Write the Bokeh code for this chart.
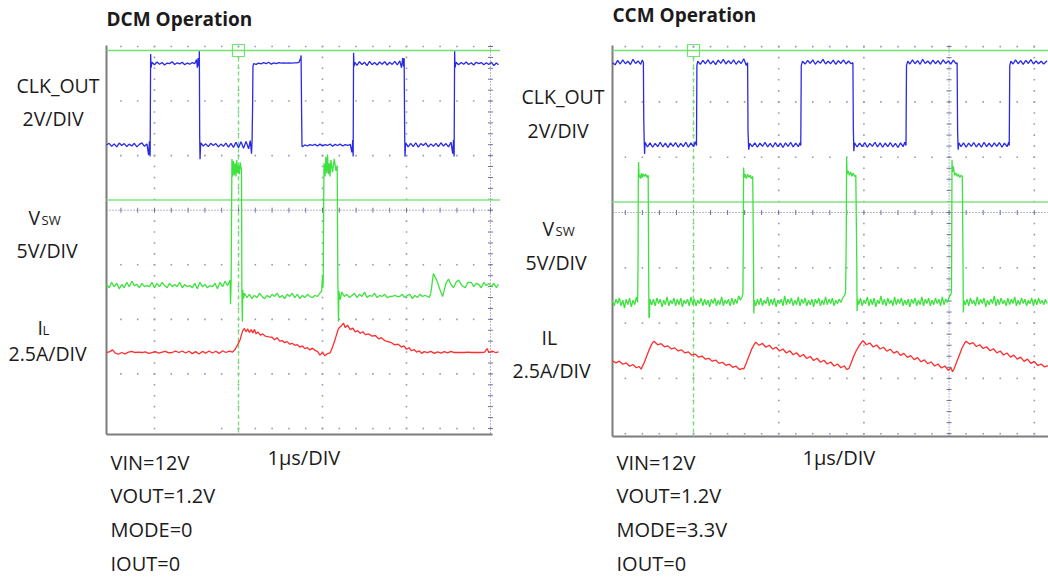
import numpy as np
from bokeh.plotting import figure
from bokeh.models import Range1d
from bokeh.layouts import row
from bokeh.core.properties import value
from bokeh.embed import file_html
from bokeh.resources import INLINE

# ---------------------------------------------------------------- data
# (time in us, value in channel units) read off the two scope captures

DCM_CLK = [
    (-1.571, 0.02), (-1.54, 0.08), (-1.51, -0.03), (-1.48, 0.06), (-1.45, -0.05), (-1.42, 0.09),
    (-1.39, 0.0), (-1.36, 0.07), (-1.33, -0.04), (-1.30, 0.05), (-1.27, -0.02), (-1.24, 0.08),
    (-1.21, -0.05), (-1.18, 0.04), (-1.15, 0.10), (-1.12, -0.03), (-1.09, 0.06), (-1.07, -0.35),
    (-1.06, 0.15), (-1.052, -0.40), (-1.046, 3.35), (-1.040, 2.85), (-1.03, 3.05),
    (-1.00, 2.96), (-0.97, 3.06), (-0.94, 2.98), (-0.91, 3.04), (-0.88, 2.95), (-0.85, 3.02),
    (-0.82, 3.0), (-0.79, 3.07), (-0.76, 2.97), (-0.73, 3.03), (-0.70, 2.99), (-0.67, 3.05),
    (-0.64, 2.96), (-0.61, 3.02), (-0.58, 2.98), (-0.55, 3.04), (-0.52, 3.0), (-0.50, 3.15),
    (-0.49, 2.85), (-0.48, 3.2), (-0.47, 2.9), (-0.466, 3.45),
    (-0.462, 0.3), (-0.458, -0.5), (-0.45, 0.1),
    (-0.42, -0.02), (-0.39, 0.06), (-0.36, -0.04), (-0.33, 0.08), (-0.30, 0.0), (-0.27, 0.07),
    (-0.24, -0.05), (-0.21, 0.05), (-0.18, -0.03), (-0.15, 0.09), (-0.12, -0.06), (-0.09, 0.08),
    (-0.06, -0.07), (-0.03, 0.12), (0.0, -0.08), (0.03, 0.14), (0.06, -0.1), (0.09, 0.15),
    (0.12, -0.12), (0.14, 0.18), (0.155, -0.3), (0.162, 0.2),
    (0.168, 1.5), (0.172, 2.9), (0.18, 3.0),
    (0.21, 2.97), (0.24, 3.02), (0.27, 2.99), (0.30, 3.04), (0.33, 3.0), (0.36, 3.05),
    (0.39, 2.98), (0.42, 3.03), (0.45, 3.0), (0.48, 3.04), (0.51, 3.02), (0.54, 3.03),
    (0.57, 3.02), (0.60, 3.03), (0.63, 3.02), (0.66, 3.03), (0.69, 3.03), (0.72, 3.05),
    (0.74, 3.2), (0.745, 3.3),
    (0.752, 1.0), (0.756, 0.0), (0.76, -0.05),
    (0.79, 0.02), (0.82, -0.02), (0.85, 0.03), (0.88, 0.0), (0.91, 0.04), (0.94, -0.02),
    (0.97, 0.05), (1.0, -0.02), (1.03, 0.03), (1.06, 0.0), (1.09, 0.05), (1.12, -0.03),
    (1.15, 0.04), (1.18, 0.0), (1.21, 0.05), (1.24, -0.02), (1.27, 0.03), (1.30, 0.0),
    (1.33, 0.04), (1.35, -0.25), (1.36, 0.2), (1.365, -0.4),
    (1.37, 3.4), (1.375, 2.9), (1.385, 3.05),
    (1.41, 2.94), (1.44, 3.07), (1.47, 2.97), (1.50, 3.05), (1.53, 2.93), (1.56, 3.08),
    (1.59, 2.96), (1.62, 3.04), (1.65, 2.95), (1.68, 3.06), (1.71, 2.98), (1.74, 3.07),
    (1.77, 2.95), (1.80, 3.05), (1.83, 2.97), (1.86, 3.08), (1.89, 2.95), (1.92, 3.1),
    (1.94, 2.85), (1.955, 3.2), (1.965, 2.9), (1.972, 3.2),
    (1.978, 0.5), (1.982, -0.4), (1.99, 0.1),
    (2.02, -0.05), (2.05, 0.08), (2.08, -0.04), (2.11, 0.1), (2.14, -0.06), (2.17, 0.07),
    (2.20, 0.0), (2.23, 0.09), (2.26, -0.05), (2.29, 0.06), (2.32, -0.03), (2.35, 0.08),
    (2.38, -0.04), (2.41, 0.1), (2.44, -0.02), (2.47, 0.07), (2.50, -0.05), (2.53, 0.12),
    (2.55, -0.3), (2.56, 0.2), (2.567, -0.4),
    (2.573, 3.45), (2.578, 2.85), (2.59, 3.05),
    (2.62, 2.96), (2.65, 3.04), (2.68, 2.98), (2.71, 3.06), (2.74, 2.97), (2.77, 3.03),
    (2.80, 2.95), (2.83, 3.05), (2.86, 3.0), (2.89, 3.04), (2.92, 2.96), (2.95, 3.03),
    (2.98, 2.97), (3.01, 3.05), (3.04, 2.93), (3.07, 3.02), (3.095, 2.96),
]

DCM_VSW = [
    (-1.571, 1.1), (-1.54, 0.8), (-1.51, 1.3), (-1.48, 0.9), (-1.45, 1.2), (-1.42, 0.7),
    (-1.39, 1.1), (-1.36, 0.8), (-1.33, 1.3), (-1.30, 0.9), (-1.27, 1.4), (-1.24, 1.0),
    (-1.21, 1.1), (-1.18, 0.8), (-1.15, 1.2), (-1.12, 0.9), (-1.09, 1.0), (-1.06, 0.9),
    (-1.03, 1.3), (-1.0, 0.8), (-0.97, 1.2), (-0.94, 0.9), (-0.91, 1.3), (-0.88, 1.0),
    (-0.85, 0.8), (-0.82, 1.2), (-0.79, 0.9), (-0.76, 1.1), (-0.73, 0.9), (-0.70, 1.3),
    (-0.67, 0.8), (-0.64, 1.1), (-0.61, 0.9), (-0.58, 1.0), (-0.55, 0.8), (-0.52, 1.2),
    (-0.49, 0.7), (-0.46, 1.3), (-0.43, 0.9), (-0.40, 1.1), (-0.37, 0.8), (-0.34, 1.0),
    (-0.31, 0.9), (-0.28, 1.2), (-0.25, 0.7), (-0.22, 1.3), (-0.19, 0.9), (-0.16, 1.4),
    (-0.13, 1.0), (-0.10, 1.5), (-0.095, -0.7), (-0.088, 1.2),
    (-0.084, 6.0), (-0.078, 12.6), (-0.07, 11.0), (-0.06, 12.4), (-0.05, 11.1), (-0.04, 12.2),
    (-0.03, 11.0), (-0.02, 12.5), (-0.01, 11.3), (0.0, 12.0), (0.01, 11.2), (0.02, 12.3),
    (0.03, 11.8), (0.036, 11.5),
    (0.040, 0.5), (0.046, -2.3), (0.05, 0.6), (0.06, -0.2),
    (0.07, 0.3), (0.10, -0.1), (0.13, 0.2), (0.16, -0.2), (0.19, 0.1), (0.22, -0.1),
    (0.25, 0.3), (0.28, 0.0), (0.31, -0.2), (0.34, 0.1), (0.37, -0.1), (0.40, 0.2),
    (0.43, 0.0), (0.46, 0.3), (0.49, -0.1), (0.52, 0.1), (0.55, -0.2), (0.58, 0.2),
    (0.61, 0.0), (0.64, 0.3), (0.67, -0.1), (0.70, 0.2), (0.73, -0.2), (0.76, 0.1),
    (0.79, -0.1), (0.82, 0.2), (0.85, 0.0), (0.88, -0.1), (0.91, 0.1), (0.94, 0.0),
    (0.97, 0.3), (0.99, 0.5), (1.0, 1.9), (1.003, 0.8), (1.008, 1.2),
    (1.012, 6.0), (1.018, 12.2), (1.03, 11.0), (1.04, 12.8), (1.05, 11.3), (1.06, 13.0),
    (1.07, 11.2), (1.08, 12.2), (1.09, 11.0), (1.10, 12.5), (1.12, 11.4), (1.14, 12.6),
    (1.16, 11.5), (1.175, 12.0),
    (1.182, 2.0), (1.19, -2.3), (1.196, 0.5), (1.21, -0.3), (1.23, 0.4),
    (1.26, 0.0), (1.29, 0.2), (1.32, -0.1), (1.35, 0.1), (1.38, 0.3), (1.41, -0.1),
    (1.44, 0.2), (1.47, 0.0), (1.50, 0.4), (1.53, -0.1), (1.56, 0.1), (1.59, 0.0),
    (1.62, 0.3), (1.65, -0.1), (1.68, 0.1), (1.71, 0.0), (1.74, 0.2), (1.77, -0.1),
    (1.80, 0.0), (1.83, 0.0), (1.86, 0.1), (1.89, 0.0), (1.92, 0.0), (1.95, 0.2),
    (1.98, -0.1), (2.01, 0.1), (2.04, 0.2), (2.07, -0.2), (2.10, 0.1), (2.13, -0.1),
    (2.16, 0.2), (2.19, 0.0), (2.22, 0.1), (2.25, 0.0), (2.27, -0.1),
    (2.29, 0.3), (2.32, 2.1), (2.36, 1.5), (2.40, 0.6), (2.43, 0.0), (2.47, 1.2),
    (2.50, 1.6), (2.53, 1.1), (2.56, 0.8), (2.59, 1.3), (2.62, 1.5), (2.66, 1.0),
    (2.70, 0.8), (2.73, 1.3), (2.77, 1.3), (2.80, 0.9), (2.83, 1.2), (2.86, 1.1),
    (2.89, 0.8), (2.92, 1.3), (2.95, 1.0), (2.98, 1.2), (3.01, 0.9), (3.04, 1.2),
    (3.07, 0.8), (3.095, 1.1),
]

DCM_IL = [
    (-1.571, 0.0), (-1.53, 0.04), (-1.50, 0.12), (-1.47, -0.02), (-1.43, -0.08), (-1.39, 0.0),
    (-1.35, -0.06), (-1.31, 0.02), (-1.27, 0.05), (-1.23, 0.0), (-1.19, 0.02), (-1.15, 0.0),
    (-1.11, 0.03), (-1.07, -0.04), (-1.03, 0.0), (-0.99, 0.04), (-0.95, -0.03), (-0.91, 0.02),
    (-0.87, 0.05), (-0.83, -0.02), (-0.79, 0.0), (-0.75, 0.06), (-0.71, 0.0), (-0.67, 0.07),
    (-0.63, -0.02), (-0.59, 0.06), (-0.55, -0.05), (-0.51, 0.04), (-0.47, -0.07), (-0.43, 0.05),
    (-0.39, -0.03), (-0.35, 0.07), (-0.31, -0.02), (-0.27, 0.06), (-0.23, -0.04), (-0.19, 0.08),
    (-0.15, 0.0), (-0.11, 0.06), (-0.07, 0.02), (-0.04, 0.15), (-0.01, 0.35), (0.02, 0.6),
    (0.05, 1.0), (0.07, 1.1), (0.09, 0.95), (0.11, 1.08), (0.13, 0.92), (0.15, 1.05),
    (0.17, 0.9), (0.19, 1.06), (0.21, 0.85), (0.23, 0.95), (0.26, 0.80), (0.29, 0.85),
    (0.32, 0.75), (0.36, 0.72), (0.40, 0.70), (0.43, 0.58), (0.46, 0.68), (0.49, 0.52),
    (0.52, 0.55), (0.55, 0.45), (0.58, 0.50), (0.61, 0.38), (0.64, 0.42), (0.67, 0.33),
    (0.70, 0.36), (0.73, 0.25), (0.76, 0.30), (0.79, 0.18), (0.82, 0.22), (0.85, 0.12),
    (0.88, 0.2), (0.91, 0.1), (0.94, 0.05), (0.97, -0.12), (1.0, 0.0), (1.03, -0.15),
    (1.06, -0.05), (1.09, -0.02), (1.12, 0.25), (1.15, 0.6), (1.19, 1.1), (1.22, 1.2),
    (1.25, 1.35), (1.27, 1.15), (1.30, 1.25), (1.33, 1.05), (1.36, 1.12), (1.39, 0.95),
    (1.42, 1.0), (1.45, 0.88), (1.48, 0.95), (1.51, 0.82), (1.55, 0.85), (1.59, 0.75),
    (1.63, 0.78), (1.67, 0.62), (1.70, 0.68), (1.74, 0.55), (1.78, 0.5), (1.82, 0.45),
    (1.86, 0.35), (1.90, 0.38), (1.94, 0.25), (1.97, 0.3), (2.0, 0.15), (2.03, 0.22),
    (2.06, 0.08), (2.09, 0.14), (2.12, 0.02), (2.15, 0.08), (2.18, -0.04), (2.21, 0.04),
    (2.25, 0.0), (2.29, 0.05), (2.33, -0.04), (2.37, 0.03), (2.41, -0.03), (2.45, 0.04),
    (2.49, -0.02), (2.53, 0.05), (2.57, 0.0), (2.61, 0.0), (2.65, 0.0), (2.69, 0.0),
    (2.73, 0.02), (2.77, 0.0), (2.81, 0.0), (2.85, 0.0), (2.89, 0.0), (2.93, 0.02),
    (2.96, 0.18), (2.98, 0.0), (3.02, 0.06), (3.06, 0.0), (3.095, 0.03),
]

CCM_CLK = [
    (-0.953, 3.0), (-0.92, 2.92), (-0.89, 3.08), (-0.86, 2.95), (-0.83, 3.1), (-0.80, 2.96),
    (-0.77, 3.05), (-0.74, 2.93), (-0.71, 3.12), (-0.68, 2.97), (-0.65, 3.06), (-0.62, 2.94),
    (-0.60, 3.1), (-0.588, 3.0), (-0.584, 1.0), (-0.578, 0.1), (-0.574, -0.3), (-0.568, 0.12),
    (-0.54, -0.05), (-0.51, 0.1), (-0.48, -0.06), (-0.45, 0.08), (-0.42, -0.04), (-0.39, 0.12),
    (-0.36, -0.05), (-0.33, 0.09), (-0.30, -0.07), (-0.27, 0.1), (-0.24, -0.03), (-0.21, 0.11),
    (-0.18, -0.06), (-0.15, 0.08), (-0.12, -0.04), (-0.09, 0.12), (-0.06, -0.06), (-0.03, 0.1),
    (0.0, -0.04), (0.02, 0.14), (0.035, 0.0), (0.04, 2.9), (0.05, 3.05),
    (0.08, 2.94), (0.11, 3.08), (0.14, 2.96), (0.17, 3.1), (0.20, 2.95), (0.23, 3.06),
    (0.26, 2.93), (0.29, 3.09), (0.32, 2.97), (0.35, 3.12), (0.38, 2.95), (0.41, 3.07),
    (0.44, 2.96), (0.47, 3.1), (0.50, 2.94), (0.53, 3.06), (0.56, 2.97), (0.59, 3.14),
    (0.62, 2.9), (0.635, 3.0), (0.64, 0.5), (0.648, -0.15), (0.66, 0.08),
    (0.69, -0.04), (0.72, 0.1), (0.75, -0.06), (0.78, 0.09), (0.81, -0.03), (0.84, 0.12),
    (0.87, -0.05), (0.90, 0.08), (0.93, -0.06), (0.96, 0.11), (0.99, -0.04), (1.02, 0.09),
    (1.05, -0.07), (1.08, 0.1), (1.11, -0.03), (1.14, 0.12), (1.17, -0.05), (1.20, 0.09),
    (1.23, -0.04), (1.25, 0.1), (1.259, 0.0), (1.265, 2.9), (1.28, 3.05),
    (1.31, 2.95), (1.34, 3.08), (1.37, 2.97), (1.40, 3.1), (1.43, 2.94), (1.46, 3.06),
    (1.49, 2.98), (1.52, 3.12), (1.55, 2.95), (1.58, 3.05), (1.61, 2.96), (1.64, 3.09),
    (1.67, 2.94), (1.70, 3.07), (1.73, 2.97), (1.76, 3.1), (1.79, 2.95), (1.82, 3.06),
    (1.85, 2.96), (1.871, 3.0), (1.876, 0.6), (1.882, -0.2), (1.89, 0.1),
    (1.92, -0.05), (1.95, 0.09), (1.98, -0.04), (2.01, 0.11), (2.04, -0.06), (2.07, 0.08),
    (2.10, -0.03), (2.13, 0.12), (2.16, -0.05), (2.19, 0.1), (2.22, -0.06), (2.25, 0.09),
    (2.28, -0.04), (2.31, 0.11), (2.34, -0.05), (2.37, 0.08), (2.40, -0.07), (2.43, 0.1),
    (2.46, -0.04), (2.48, 0.12), (2.494, 0.0), (2.50, 2.9), (2.515, 3.05),
    (2.54, 2.95), (2.57, 3.1), (2.60, 2.96), (2.63, 3.07), (2.66, 2.94), (2.69, 3.12),
    (2.72, 2.97), (2.75, 3.06), (2.78, 2.95), (2.81, 3.09), (2.84, 2.96), (2.87, 3.07),
    (2.90, 2.94), (2.93, 3.1), (2.96, 2.97), (2.99, 3.06), (3.02, 2.95), (3.05, 3.09),
    (3.08, 2.96), (3.094, 3.0), (3.10, 0.5), (3.106, -0.15), (3.115, 0.1),
    (3.14, -0.04), (3.17, 0.1), (3.20, -0.06), (3.23, 0.09), (3.26, -0.03), (3.29, 0.11),
    (3.32, -0.05), (3.35, 0.08), (3.38, -0.06), (3.41, 0.12), (3.44, -0.04), (3.47, 0.09),
    (3.50, -0.05), (3.53, 0.1), (3.56, -0.03), (3.59, 0.11), (3.62, -0.06), (3.65, 0.09),
    (3.68, -0.04), (3.70, 0.12), (3.706, 0.0), (3.712, 2.9), (3.725, 3.05),
    (3.75, 2.95), (3.78, 3.1), (3.81, 2.96), (3.84, 3.07), (3.87, 2.94), (3.90, 3.08),
    (3.93, 2.97), (3.96, 3.11), (3.99, 2.95), (4.02, 3.06), (4.05, 2.96), (4.08, 3.05),
    (4.11, 2.95), (4.15, 3.07),
]

CCM_VSW = [
    (-0.953, 0.2), (-0.93, -0.3), (-0.91, 0.3), (-0.89, -0.1), (-0.87, 0.4), (-0.85, -0.3),
    (-0.83, 0.2), (-0.81, -0.5), (-0.79, 0.3), (-0.77, -0.2), (-0.75, 0.4), (-0.73, -0.4),
    (-0.71, 0.2), (-0.69, -0.2), (-0.67, 0.5), (-0.655, 0.0),
    (-0.650, 5.0), (-0.648, 11.0), (-0.645, 12.7), (-0.638, 11.3), (-0.63, 11.5), (-0.62, 11.2),
    (-0.61, 11.7), (-0.60, 11.3), (-0.59, 11.6), (-0.575, 11.4), (-0.56, 11.6), (-0.545, 11.3),
    (-0.532, 11.5), (-0.527, 4.0), (-0.523, -1.3), (-0.518, -1.4), (-0.512, 0.3),
    (-0.49, -0.2), (-0.47, 0.3), (-0.45, -0.3), (-0.43, 0.4), (-0.41, -0.1), (-0.39, 0.3),
    (-0.37, -0.4), (-0.35, 0.2), (-0.33, -0.2), (-0.31, 0.5), (-0.29, -0.3), (-0.27, 0.2),
    (-0.25, -0.1), (-0.23, 0.4), (-0.21, -0.3), (-0.19, 0.3), (-0.17, -0.2), (-0.15, 0.4),
    (-0.13, -0.4), (-0.11, 0.2), (-0.09, -0.1), (-0.07, 0.3), (-0.05, -0.3), (-0.03, 0.5),
    (-0.01, -0.2), (0.01, 0.3), (0.03, -0.3), (0.05, 0.2), (0.07, -0.1), (0.09, 0.4),
    (0.11, -0.3), (0.13, 0.3), (0.15, -0.2), (0.17, 0.2), (0.19, -0.4), (0.21, 0.3),
    (0.23, -0.1), (0.25, 0.4), (0.27, -0.3), (0.29, 0.2), (0.31, -0.2), (0.33, 0.5),
    (0.35, -0.3), (0.37, 0.2), (0.39, -0.1), (0.41, 0.3), (0.43, -0.3), (0.45, 0.4),
    (0.47, -0.2), (0.49, 0.3), (0.51, -0.1), (0.53, 0.6), (0.55, 0.2), (0.57, 0.5),
    (0.58, 0.8), (0.585, 6.0), (0.588, 12.2), (0.595, 11.3), (0.605, 11.6), (0.62, 11.2),
    (0.635, 11.6), (0.65, 11.3), (0.665, 11.5), (0.68, 11.2), (0.695, 11.4),
    (0.704, 4.0), (0.708, -1.0), (0.714, 0.2),
    (0.73, -0.3), (0.75, 0.3), (0.77, -0.2), (0.79, 0.4), (0.81, -0.3), (0.83, 0.2),
    (0.85, -0.1), (0.87, 0.5), (0.89, -0.3), (0.91, 0.3), (0.93, -0.2), (0.95, 0.4),
    (0.97, -0.4), (0.99, 0.2), (1.01, -0.1), (1.03, 0.3), (1.05, -0.3), (1.07, 0.6),
    (1.09, -0.2), (1.11, 0.3), (1.13, -0.1), (1.15, 0.4), (1.17, -0.3), (1.19, 0.2),
    (1.21, -0.2), (1.23, 0.5), (1.25, -0.3), (1.27, 0.3), (1.29, -0.1), (1.31, 0.4),
    (1.33, -0.3), (1.35, 0.2), (1.37, -0.2), (1.39, 0.3), (1.41, -0.4), (1.43, 0.3),
    (1.45, -0.1), (1.47, 0.4), (1.49, -0.3), (1.51, 0.2), (1.53, -0.2), (1.55, 0.5),
    (1.57, -0.2), (1.59, 0.3), (1.61, -0.1), (1.63, 0.4), (1.65, -0.3), (1.67, 0.2),
    (1.69, -0.1), (1.71, 0.3), (1.73, 0.0), (1.75, 0.4), (1.77, 0.6), (1.785, 0.9),
    (1.793, 6.0), (1.797, 13.1), (1.803, 11.6), (1.815, 11.9), (1.83, 11.5), (1.845, 11.8),
    (1.86, 11.4), (1.875, 11.7), (1.89, 11.4), (1.905, 11.5),
    (1.916, 4.0), (1.92, -0.8), (1.926, 0.3),
    (1.94, -0.2), (1.96, 0.4), (1.98, -0.3), (2.00, 0.2), (2.02, -0.1), (2.04, 0.5),
    (2.06, -0.3), (2.08, 0.3), (2.10, -0.2), (2.12, 0.4), (2.14, -0.4), (2.16, 0.2),
    (2.18, -0.1), (2.20, 0.6), (2.22, -0.2), (2.24, 0.3), (2.26, -0.3), (2.28, 0.4),
    (2.30, -0.1), (2.32, 0.2), (2.34, -0.3), (2.36, 0.5), (2.38, -0.2), (2.40, 0.3),
    (2.42, -0.1), (2.44, 0.4), (2.46, -0.3), (2.48, 0.2), (2.50, -0.2), (2.52, 0.3),
    (2.54, -0.4), (2.56, 0.3), (2.58, -0.1), (2.60, 0.4), (2.62, -0.3), (2.64, 0.2),
    (2.66, -0.2), (2.68, 0.5), (2.70, -0.3), (2.72, 0.3), (2.74, -0.1), (2.76, 0.4),
    (2.78, -0.3), (2.80, 0.2), (2.82, -0.2), (2.84, 0.4), (2.86, -0.1), (2.88, 0.3),
    (2.90, -0.3), (2.92, 0.5), (2.94, -0.2), (2.96, 0.3), (2.98, 0.0), (3.00, 0.5),
    (3.02, 0.7), (3.028, 1.0),
    (3.031, 6.0), (3.034, 12.9), (3.04, 11.8), (3.05, 12.3), (3.065, 11.5), (3.08, 11.7),
    (3.095, 11.4), (3.11, 11.6), (3.125, 11.3), (3.14, 11.5), (3.155, 11.4),
    (3.163, 4.0), (3.167, -0.9), (3.172, 0.2),
    (3.19, -0.2), (3.21, 0.3), (3.23, -0.3), (3.25, 0.4), (3.27, -0.1), (3.29, 0.2),
    (3.31, -0.3), (3.33, 0.5), (3.35, -0.2), (3.37, 0.3), (3.39, -0.1), (3.41, 0.4),
    (3.43, -0.4), (3.45, 0.2), (3.47, -0.2), (3.49, 0.3), (3.51, -0.1), (3.53, 0.6),
    (3.55, -0.3), (3.57, 0.3), (3.59, -0.2), (3.61, 0.4), (3.63, -0.1), (3.65, 0.2),
    (3.67, -0.3), (3.69, 0.4), (3.71, -0.2), (3.73, 0.3), (3.75, -0.1), (3.77, 0.5),
    (3.79, -0.3), (3.81, 0.2), (3.83, -0.2), (3.85, 0.4), (3.87, -0.1), (3.89, 0.3),
    (3.91, -0.3), (3.93, 0.2), (3.95, -0.1), (3.97, 0.4), (3.99, -0.3), (4.01, 0.3),
    (4.03, -0.2), (4.05, 0.4), (4.07, -0.1), (4.09, 0.2), (4.11, -0.2), (4.13, 0.3),
    (4.15, -0.1),
]

CCM_IL = [
    (-0.953, -0.2), (-0.91, -0.3), (-0.87, -0.22), (-0.83, -0.36), (-0.79, -0.3), (-0.75, -0.45),
    (-0.71, -0.38), (-0.67, -0.52), (-0.64, -0.46), (-0.615, -0.58),
    (-0.58, -0.3), (-0.55, 0.0), (-0.52, 0.3), (-0.49, 0.55), (-0.47, 0.66),
    (-0.46, 0.67), (-0.42, 0.52), (-0.38, 0.57), (-0.34, 0.43), (-0.30, 0.47), (-0.26, 0.33),
    (-0.22, 0.38), (-0.18, 0.24), (-0.14, 0.29), (-0.10, 0.15), (-0.06, 0.2), (-0.02, 0.05),
    (0.02, 0.1), (0.06, -0.04), (0.10, 0.01), (0.14, -0.13), (0.18, -0.09), (0.22, -0.22),
    (0.26, -0.17), (0.30, -0.32), (0.34, -0.27), (0.38, -0.41), (0.42, -0.36), (0.46, -0.5),
    (0.50, -0.45), (0.54, -0.6), (0.58, -0.55), (0.59, -0.58),
    (0.62, -0.3), (0.65, 0.0), (0.68, 0.3), (0.71, 0.52), (0.73, 0.64),
    (0.77, 0.5), (0.81, 0.58), (0.85, 0.41), (0.89, 0.5), (0.93, 0.32), (0.97, 0.41),
    (1.01, 0.24), (1.05, 0.33), (1.09, 0.15), (1.13, 0.25), (1.17, 0.07), (1.21, 0.16),
    (1.25, -0.02), (1.29, 0.08), (1.33, -0.1), (1.37, -0.01), (1.41, -0.19), (1.45, -0.09),
    (1.49, -0.27), (1.53, -0.18), (1.57, -0.35), (1.61, -0.26), (1.65, -0.44), (1.69, -0.35),
    (1.73, -0.52), (1.77, -0.43), (1.80, -0.6), (1.824, -0.55),
    (1.85, -0.3), (1.88, 0.0), (1.91, 0.25), (1.94, 0.45), (1.97, 0.62), (1.99, 0.7),
    (2.03, 0.52), (2.07, 0.6), (2.11, 0.42), (2.15, 0.51), (2.19, 0.33), (2.23, 0.41),
    (2.27, 0.23), (2.31, 0.32), (2.35, 0.14), (2.39, 0.22), (2.43, 0.04), (2.47, 0.13),
    (2.51, -0.05), (2.55, 0.03), (2.59, -0.15), (2.63, -0.06), (2.67, -0.25), (2.71, -0.16),
    (2.75, -0.34), (2.79, -0.25), (2.83, -0.44), (2.87, -0.35), (2.91, -0.53), (2.95, -0.44),
    (2.99, -0.64), (3.02, -0.52), (3.04, -0.7),
    (3.06, -0.55), (3.09, -0.25), (3.12, 0.05), (3.15, 0.35), (3.18, 0.58), (3.2, 0.68),
    (3.24, 0.55), (3.28, 0.62), (3.32, 0.44), (3.36, 0.52), (3.40, 0.35), (3.44, 0.43),
    (3.48, 0.25), (3.52, 0.34), (3.56, 0.15), (3.60, 0.24), (3.64, 0.06), (3.68, 0.15),
    (3.72, -0.04), (3.76, 0.05), (3.80, -0.13), (3.84, -0.04), (3.88, -0.23), (3.92, -0.13),
    (3.96, -0.32), (4.00, -0.23), (4.04, -0.42), (4.08, -0.35), (4.12, -0.48), (4.16, -0.42),
]

# channel settings (volts or amps per division, zero-reference position in divisions)
CLK_SCALE, VSW_SCALE, IL_SCALE = 2.0, 5.0, 2.5
DCM_OFFSETS = {"clk": 1.186, "vsw": -1.581, "il": -2.608}
CCM_OFFSETS = {"clk": 1.21, "vsw": -1.627, "il": -2.60}

DCM_LABELS = ["DCM Operation", "CLK_OUT", "2V/DIV", "V", "SW", "5V/DIV", "I", "L", "2.5A/DIV",
              "VIN=12V", "VOUT=1.2V", "MODE=0", "IOUT=0", "1\u03bcs/DIV"]
CCM_LABELS = ["CCM Operation", "CLK_OUT", "2V/DIV", "V", "SW", "5V/DIV", "IL", None, "2.5A/DIV",
              "VIN=12V", "VOUT=1.2V", "MODE=3.3V", "IOUT=0", "1\u03bcs/DIV"]

# ---------------------------------------------------------------- style / layout
FONT = "Open Sans"
TEXT_COLOR = "#1b1b1b"
CLK_COLOR = "#2a2ae6"
VSW_COLOR = "#3ee23e"
IL_COLOR = "#ff2d2d"
DOT_COLOR = "#9599c2"
CENTER_COLOR = "#6e739e"
CURSOR_COLOR = "#6fe26f"
LEVEL_COLOR = "#7fe67f"
FRAME_COLOR = "#7c7c7c"
PAGE_H = 580
TEXT_SHIFT = 0.41   # baseline correction for svg text, in em


def build_panel(geo, clk, vsw, il, offsets, labels, label_pos):
    cx, cy, sx, sy = geo["cx"], geo["cy"], geo["sx"], geo["sy"]
    px0, px1 = geo["page_x0"], geo["page_x1"]

    def tx(px):
        return (px - cx) / sx

    def ty(py):
        return (cy - py) / sy

    ymin, ymax = ty(PAGE_H), ty(0)
    p = figure(width=px1 - px0, height=PAGE_H,
               x_range=Range1d(tx(px0), tx(px1)), y_range=Range1d(ymin, ymax),
               x_axis_type=None, y_axis_type=None, toolbar_location=None,
               output_backend="svg", min_border=0, outline_line_color=None,
               background_fill_color="white", border_fill_color="white")
    p.extra_y_ranges = {
        "clk": Range1d((ymin - offsets["clk"]) * CLK_SCALE, (ymax - offsets["clk"]) * CLK_SCALE),
        "vsw": Range1d((ymin - offsets["vsw"]) * VSW_SCALE, (ymax - offsets["vsw"]) * VSW_SCALE),
        "il": Range1d((ymin - offsets["il"]) * IL_SCALE, (ymax - offsets["il"]) * IL_SCALE),
    }

    f_left, f_right, f_bottom = tx(geo["frame_left"]), tx(geo["frame_right"]), ty(geo["frame_bottom"])
    f_top = ty(geo["frame_top"])

    # graticule dots
    xs, ys = [], []
    for r in range(-4, 4):
        start = geo["bottom_row_start"] if r == -4 else geo["row_start"]
        for t in np.arange(start, geo["row_end"] + 1e-6, 0.2):
            if r != 0:
                xs.append(t)
                ys.append(r)
    for c in geo["cols"]:
        for yv in np.arange(-4, 3 + 1e-6, 0.2):
            xs.append(c)
            ys.append(yv)
    p.scatter(xs, ys, marker="square", size=1.6, fill_color=DOT_COLOR, line_color=None)

    # centre lines with ticks
    p.line([f_left, f_right], [0, 0], line_color=CENTER_COLOR, line_dash="1 2", line_width=1)
    p.line([3, 3], [f_top, f_bottom], line_color=CENTER_COLOR, line_dash="1 2", line_width=1)
    tt = np.arange(geo["row_start"], geo["row_end"] + 1e-6, 0.2)
    p.scatter(tt, np.zeros_like(tt), marker="dash", angle=np.pi / 2, size=5,
              line_color=CENTER_COLOR, line_width=1)
    yy = np.arange(-4, 3 + 1e-6, 0.2)
    p.scatter(np.full_like(yy, 3.0), yy, marker="dash", size=5, line_color=CENTER_COLOR, line_width=1)

    # frame
    p.line([f_left, f_left], [f_top, f_bottom], line_color=FRAME_COLOR, line_width=2)
    p.line([f_left, f_right], [f_bottom, f_bottom], line_color=FRAME_COLOR, line_width=2)

    # green markers / cursor
    ytrig = ty(50)
    ylvl = ty(geo["level_py"])
    p.line([f_left, tx(px1)], [ytrig, ytrig], line_color=CURSOR_COLOR, line_width=1.5)
    p.line([f_left, tx(px1)], [ylvl, ylvl], line_color=LEVEL_COLOR, line_width=1.6)
    p.line([0, 0], [ty(57), f_bottom], line_color=CURSOR_COLOR, line_dash="4 3", line_width=1.3)
    p.scatter([0], [ytrig], marker="square", size=12, fill_alpha=0, line_color=CURSOR_COLOR,
              line_width=1.2)

    # traces
    for data, rng, color in ((clk, "clk", CLK_COLOR), (vsw, "vsw", VSW_COLOR), (il, "il", IL_COLOR)):
        t, v = zip(*data)
        p.line(list(t), list(v), y_range_name=rng, line_color=color, line_width=1.3)

    # texts
    for txt, (px, py, size, bold) in zip(labels, label_pos):
        if txt is None:
            continue
        p.text(x=[tx(px)], y=[ty(py - TEXT_SHIFT * size)], text=[txt], text_font=value(FONT),
               text_font_size=f"{size}px", text_font_style="bold" if bold else "normal",
               text_color=TEXT_COLOR, text_baseline="alphabetic", text_align="left")
    return p


DCM_GEO = dict(page_x0=0, page_x1=500, cx=238.0, cy=209.7, sx=84.0, sy=54.57,
               frame_left=106, frame_right=492, frame_bottom=434, frame_top=45,
               row_start=-1.4, row_end=3.0, bottom_row_start=-0.2, cols=[-1, 0, 1, 2],
               level_py=199.5)
CCM_GEO = dict(page_x0=500, page_x1=1048, cx=693.0, cy=212.0, sx=85.2, sy=55.3,
               frame_left=612, frame_right=1048, frame_bottom=436, frame_top=45,
               row_start=-0.8, row_end=4.0, bottom_row_start=-0.8, cols=[0, 1, 2, 4],
               level_py=201.5)

DCM_POS = [(106, 26, 19, True), (16, 93, 19.5, False), (22, 126, 19.5, False),
           (28, 225, 19.5, False), (41, 225, 13, False), (16, 258, 19.5, False),
           (37, 335, 19.5, False), (42, 335, 13, False), (8, 361, 19.5, False),
           (110, 470, 20, False), (110, 503, 20, False), (110, 537, 20, False),
           (110, 571, 20, False), (267, 465, 20, False)]
CCM_POS = [(612, 22, 19, True), (521, 104, 19.5, False), (527, 138, 19.5, False),
           (542, 236, 19.5, False), (555, 236, 13, False), (525, 270, 19.5, False),
           (541, 345, 19.5, False), (0, 0, 13, False), (512, 378, 19.5, False),
           (616, 470, 20, False), (616, 503, 20, False), (616, 537, 20, False),
           (616, 571, 20, False), (802, 465, 20, False)]

left = build_panel(DCM_GEO, DCM_CLK, DCM_VSW, DCM_IL, DCM_OFFSETS, DCM_LABELS, DCM_POS)
right = build_panel(CCM_GEO, CCM_CLK, CCM_VSW, CCM_IL, CCM_OFFSETS, CCM_LABELS, CCM_POS)

layout = row(left, right, spacing=0)
open("out.html", "w").write(file_html(layout, INLINE))
